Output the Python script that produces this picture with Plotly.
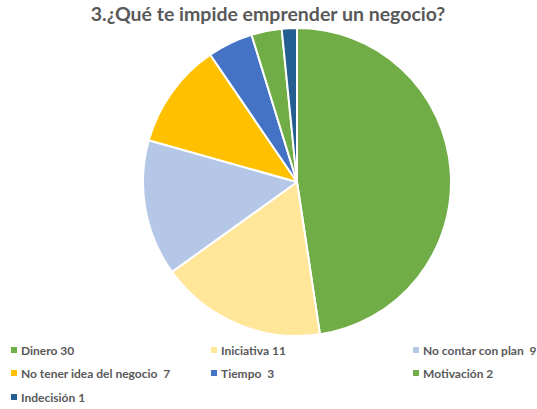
import plotly.graph_objects as go

categories = ["Dinero", "Iniciativa", "No contar con plan", "No tener idea del negocio",
              "Tiempo", "Motivación", "Indecisión"]
values = [30, 11, 9, 7, 3, 2, 1]
colors = ["#70AD47", "#FFE699", "#B4C7E7", "#FFC000", "#4472C4", "#70AD47", "#255E91"]
seps = [" ", " ", "  ", "  ", "  ", " ", " "]
labels = [f"{c}{s}{v}" for c, s, v in zip(categories, seps, values)]

W, H = 537, 409
def px(x):
    return x / W
def py(y):
    return 1 - y / H

fig = go.Figure(go.Pie(
    labels=labels, values=values, sort=False, direction="clockwise", rotation=0,
    marker=dict(colors=colors, line=dict(color="white", width=2)),
    textinfo="none", hoverinfo="label+percent",
    domain=dict(x=[px(143), px(451)], y=[py(338), py(26)]),
))

# custom legend (3 columns) built from the data arrays
col_x = [11, 211, 413]
row_y = [350, 373, 397]
FONT = "Lato, Open Sans, sans-serif"
for i, (lab, col) in enumerate(zip(labels, colors)):
    cx, cy = col_x[i % 3], row_y[i // 3]
    fig.add_shape(type="rect", xref="paper", yref="paper",
                  x0=px(cx), x1=px(cx + 6), y0=py(cy + 3), y1=py(cy - 3),
                  fillcolor=col, line=dict(width=0))
    fig.add_annotation(xref="paper", yref="paper", x=px(cx + 8), y=py(cy),
                       xanchor="left", yanchor="middle", showarrow=False,
                       text="<b>" + lab.replace("  ", "&nbsp; ") + "</b>",
                       font=dict(family=FONT, size=12, color="#595959"))

fig.update_layout(
    width=W, height=H, margin=dict(l=0, r=0, t=0, b=0),
    paper_bgcolor="white", plot_bgcolor="white",
    font=dict(family=FONT, color="#595959"),
    title=dict(text="<b>3.¿Qué te impide emprender un negocio?</b>", x=px(268), xanchor="center",
               y=py(14), yanchor="middle", font=dict(family=FONT, size=19.5, color="#595959")),
    showlegend=False,
)
fig.write_html("out.html", config={"displayModeBar": False},
               post_script="document.body.style.margin='0px';")
